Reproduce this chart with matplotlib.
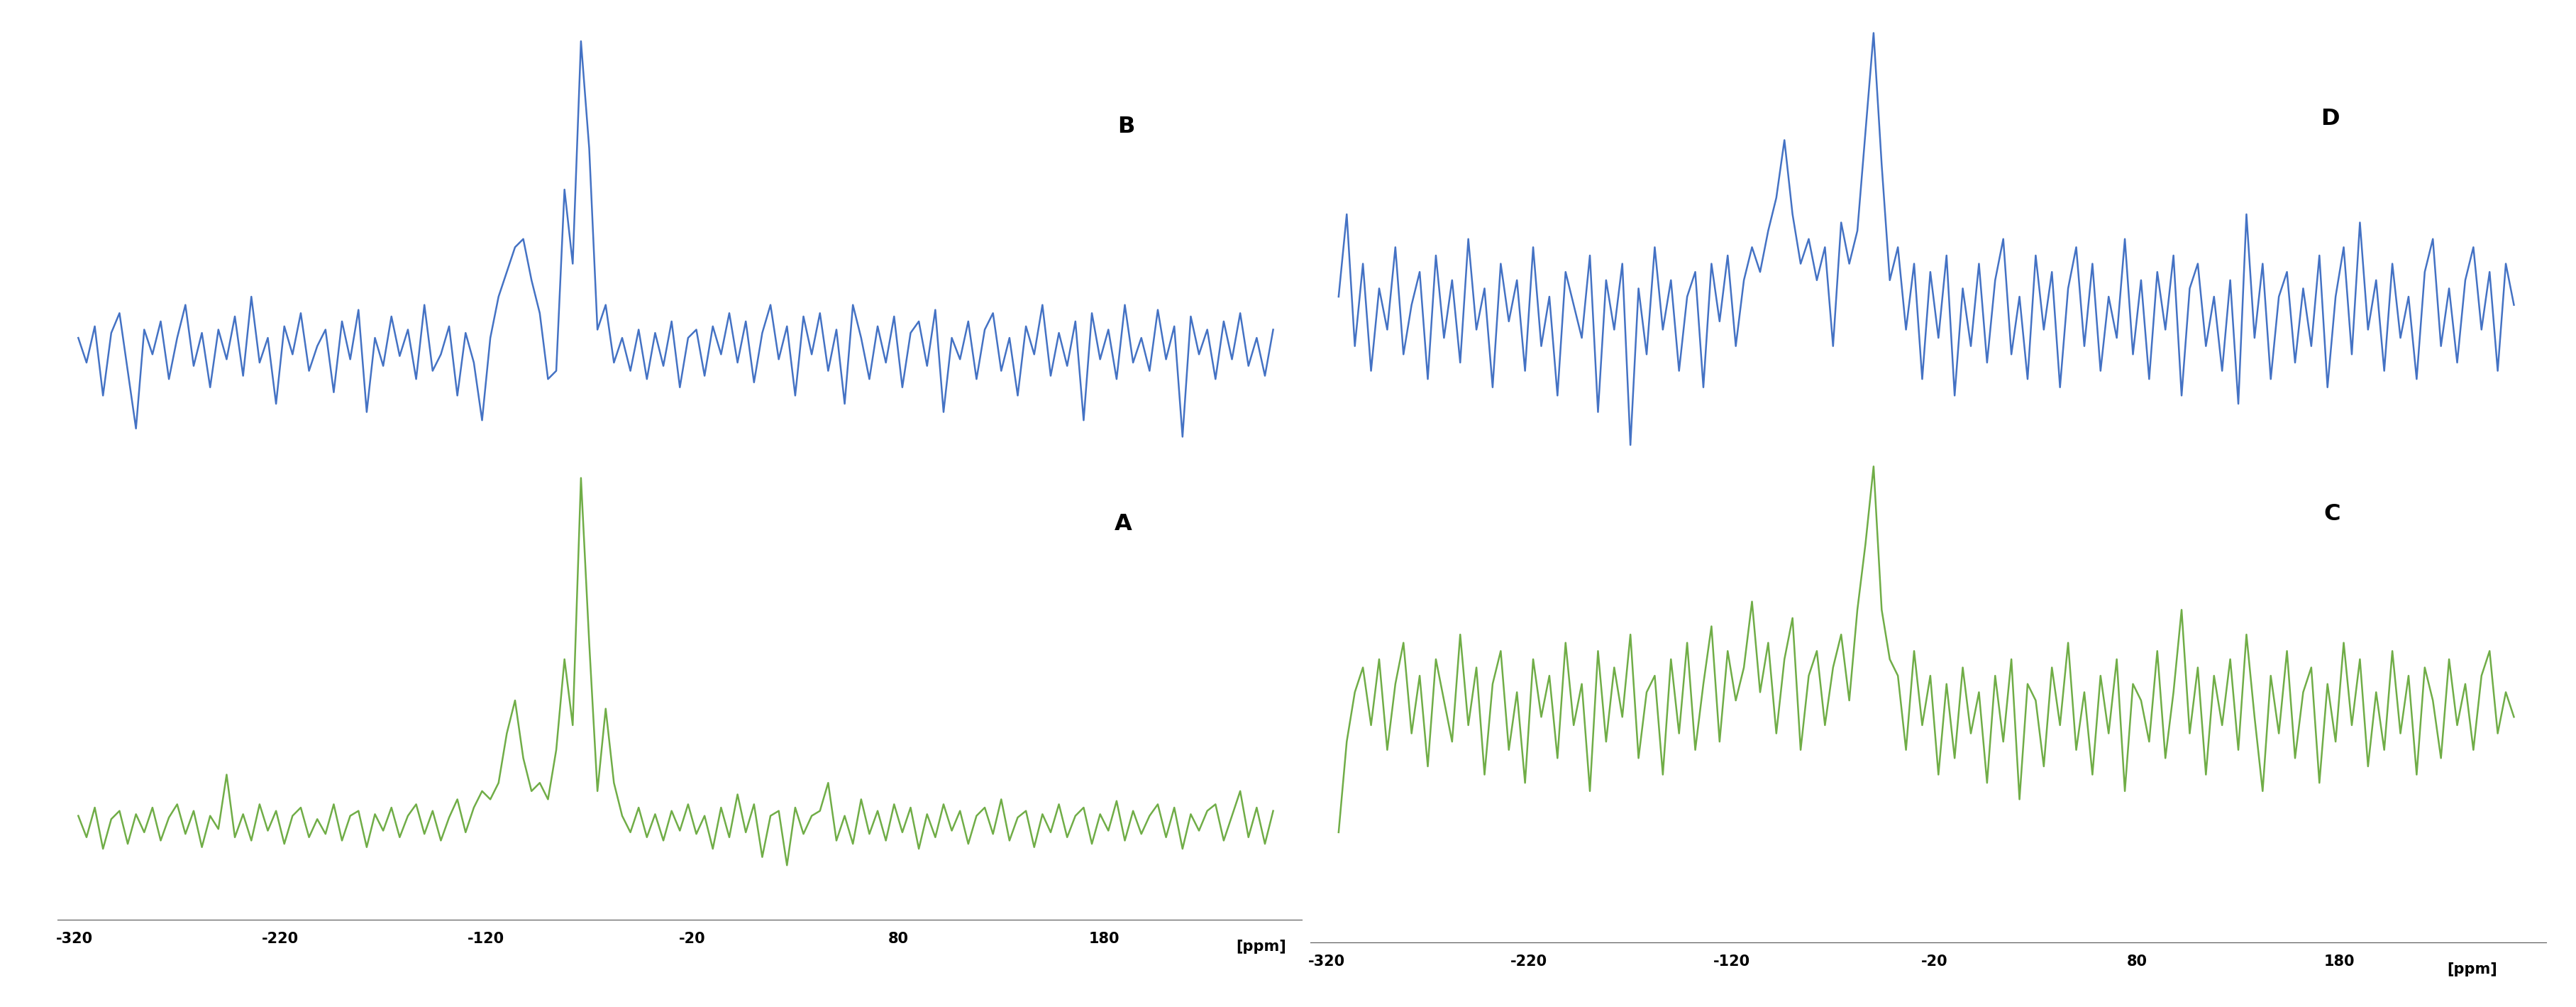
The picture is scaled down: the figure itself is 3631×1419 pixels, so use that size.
import numpy as np
import matplotlib.pyplot as plt

# chemical shift axis (ppm), one value every 4 ppm
ppm_left = np.linspace(-318, 262, 146)
ppm_right = np.linspace(-314, 266, 146)

# heights above each baseline (display pixels)
B = [5,-10,12,-30,8,20,-15,-50,10,-5, 15,-20,5,25,-12,8,-25,10,-8,18,
     -18,30,-10,5,-35,12,-5,20,-15,0, 10,-28,15,-8,22,-40,5,-12,18,-6,
     10,-20,25,-15,-5,12,-30,8,-10,-45, 5,30,45,60,65,40,20,-20,-15,95,
     50,185,120,10,25,-10,5,-15,10,-20, 8,-12,15,-25,5,10,-18,12,-5,20,
     -10,15,-22,8,25,-8,12,-30,18,-5, 20,-15,10,-35,25,5,-20,12,-10,18,
     -25,8,15,-12,22,-40,5,-8,15,-20, 10,20,-15,5,-30,12,-5,25,-18,8,
     -12,15,-45,20,-8,10,-20,25,-10,5, -15,22,-8,12,-55,18,-5,10,-20,15,
     -8,20,-12,5,-18,10]
A = [5,-8,10,-15,3,8,-12,6,-5,10, -10,4,12,-6,8,-14,5,-3,30,-8,
     6,-10,12,-4,8,-12,5,10,-8,3, -6,12,-10,5,8,-14,6,-4,10,-8,
     5,12,-6,8,-10,4,15,-5,10,20, 15,25,55,75,40,20,25,15,45,100,
     60,210,110,20,70,25,5,-5,10,-8, 6,-10,8,-4,12,-6,5,-15,10,-8,
     18,-5,12,-20,5,8,-25,10,-6,5, 8,25,-10,5,-12,15,-6,8,-10,12,
     -5,10,-15,6,-8,12,-4,8,-12,5, 10,-6,15,-10,4,8,-14,6,-5,12,
     -8,5,10,-12,6,-4,14,-10,8,-6, 5,12,-8,10,-15,6,-4,8,12,-10,
     5,20,-8,10,-12,8]
D = [10,60,-20,30,-35,15,-10,40,-25,5, 25,-40,35,-15,20,-30,45,-10,15,-45,
     30,-5,20,-35,40,-20,10,-50,25,5, -15,35,-60,20,-10,30,-80,15,-25,40,
     -10,20,-35,10,25,-45,30,-5,35,-20, 20,40,25,50,70,105,60,30,45,20,
     40,-20,55,30,50,110,170,90,20,40, -10,30,-40,25,-15,35,-50,15,-20,30,
     -30,20,45,-25,10,-40,35,-10,25,-45, 15,40,-20,30,-35,10,-15,45,-25,20,
     -40,25,-10,35,-50,15,30,-20,10,-35, 20,-55,60,-15,30,-40,10,25,-30,15,
     -20,35,-45,10,40,-25,55,-10,20,-35, 30,-15,10,-40,25,45,-20,15,-30,20,
     40,-10,25,-35,30,5]
C = [-75,-20,10,25,-10,30,-25,15,40,-15, 20,-35,30,5,-20,45,-10,25,-40,15,
     35,-25,10,-45,30,-5,20,-30,40,-10, 15,-50,35,-20,25,-5,45,-30,10,20,
     -40,30,-15,40,-25,15,50,-20,35,5, 25,65,10,40,-15,30,55,-25,20,35,
     -10,25,45,5,60,100,147,60,30,20, -25,35,-10,20,-40,15,-30,25,-15,10,
     -45,20,-20,30,-55,15,5,-35,25,-10, 40,-25,10,-40,20,-15,30,-50,15,5,
     -20,35,-30,10,60,-15,25,-40,20,-10, 30,-25,45,-5,-50,20,-15,35,-30,10,
     25,-45,15,-20,40,-10,30,-35,10,-25, 35,-15,20,-40,25,5,-30,30,-10,15,
     -25,20,35,-15,10,-5]

ticks = [-320, -220, -120, -20, 80, 180]
blue, green = '#4472C4', '#70AD47'

fig = plt.figure(figsize=(36.31, 14.19), dpi=100)
W, H = 1563, 611
panels = [
    # (left, right, spine y, x-range, ppm, top, top base, bottom, bottom base, labels, ppm-label x)
    (35, 790, 558, (-328, 276), ppm_left, B, 210, A, 500, ('B', 'A'), (678, 77, 676, 318), 244),
    (795, 1545, 572, (-328, 282), ppm_right, D, 190, C, 430, ('D', 'C'), (1408, 72, 1410, 312), 233),
]
for (x0, x1, ys, xr, ppm, top, tb, bot, bb, labs, lpos, ppmx) in panels:
    ax = fig.add_axes([x0 / W, 1 - ys / H, (x1 - x0) / W, ys / H])
    ax.plot(ppm, tb - np.array(top), color=blue, lw=1.8)
    ax.plot(ppm, bb - np.array(bot), color=green, lw=1.8)
    ax.set_xlim(*xr)
    ax.set_ylim(ys, 0)
    ax.set_yticks([])
    for s in ['top', 'left', 'right']:
        ax.spines[s].set_visible(False)
    ax.spines['bottom'].set_color('#555555')
    ax.set_xticks(ticks)
    ax.set_xticklabels([str(t) for t in ticks], fontsize=15, fontweight='bold')
    ax.tick_params(axis='x', length=0, pad=12)
    ax.text(ppmx, ys + 12, '[ppm]', fontsize=15, fontweight='bold', va='top', ha='left')
    sc = (xr[1] - xr[0]) / (x1 - x0)
    ax.text(xr[0] + (lpos[0] - x0) * sc, lpos[1], labs[0], fontsize=23, fontweight='bold', va='center')
    ax.text(xr[0] + (lpos[2] - x0) * sc, lpos[3], labs[1], fontsize=23, fontweight='bold', va='center')

fig.savefig('out.png', dpi=100)
